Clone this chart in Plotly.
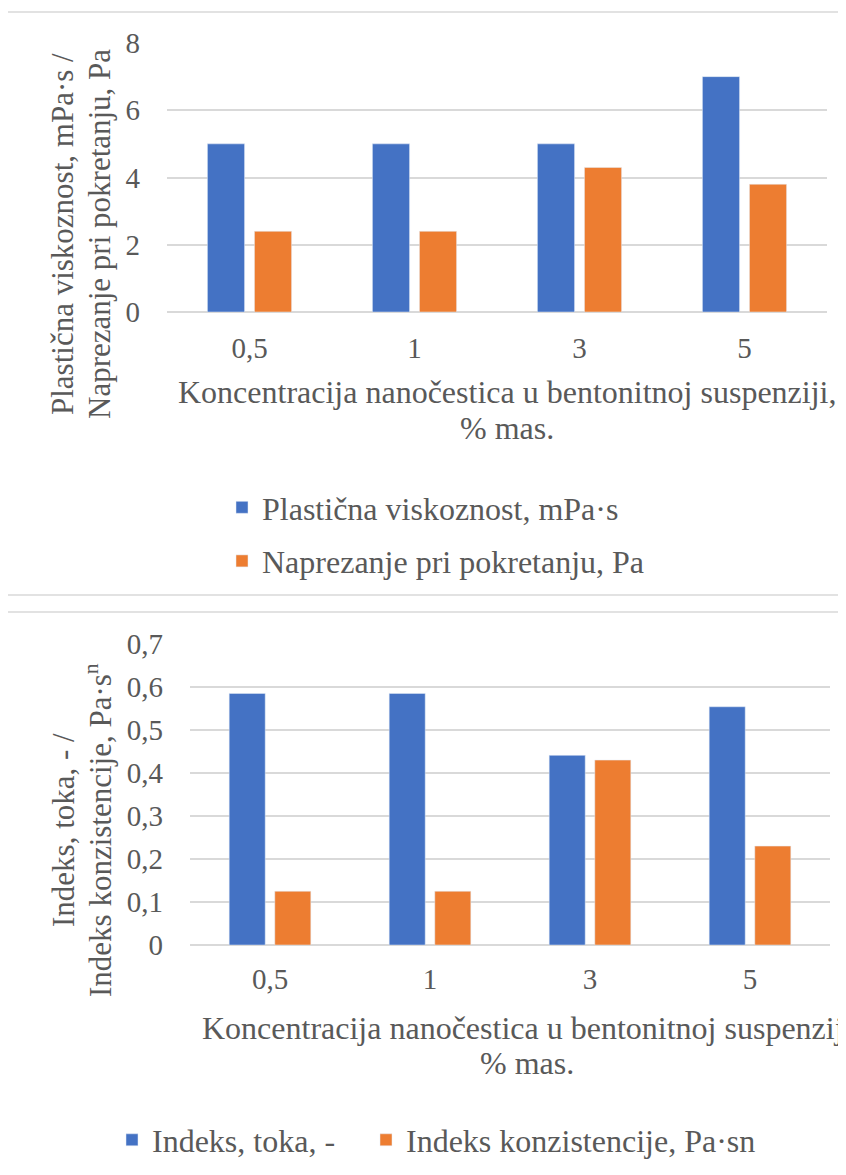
import plotly.graph_objects as go

W, H = 846, 1175
OFF = 8  # default page body margin

categories = ["0,5", "1", "3", "5"]

# Top chart
top_series1_name = "Plastična viskoznost, mPa·s"
top_series1 = [5, 5, 5, 7]
top_series2_name = "Naprezanje pri pokretanju, Pa"
top_series2 = [2.4, 2.4, 4.3, 3.8]
top_yticks = [0, 2, 4, 6, 8]
top_ylabels = ["0", "2", "4", "6", "8"]

# Bottom chart
bot_series1_name = "Indeks, toka, -"
bot_series1 = [0.585, 0.585, 0.441, 0.554]
bot_series2_name = "Indeks konzistencije, Pa·sn"
bot_series2 = [0.125, 0.125, 0.43, 0.23]
bot_yticks = [0, 0.1, 0.2, 0.3, 0.4, 0.5, 0.6, 0.7]
bot_ylabels = ["0", "0,1", "0,2", "0,3", "0,4", "0,5", "0,6", "0,7"]

BLUE = "#4472C4"
ORANGE = "#ED7D31"
TXT = "#595959"
GRID = "#D9D9D9"
FONT = "Liberation Serif, Times New Roman, Tinos, DejaVu Serif, serif"


def px(x):
    return (x - OFF) / W


def py(y):
    return 1 - (y - OFF) / H


fig = go.Figure()

fig.add_trace(go.Bar(x=categories, y=top_series1, name=top_series1_name,
                     marker_color=BLUE, xaxis="x", yaxis="y", legend="legend",
                     legendgroup="a"))
fig.add_trace(go.Bar(x=categories, y=top_series2, name=top_series2_name,
                     marker_color=ORANGE, xaxis="x", yaxis="y", legend="legend",
                     legendgroup="b"))
fig.add_trace(go.Bar(x=categories, y=bot_series1, name=bot_series1_name,
                     marker_color=BLUE, xaxis="x2", yaxis="y2", legend="legend2"))
fig.add_trace(go.Bar(x=categories, y=bot_series2, name=bot_series2_name,
                     marker_color=ORANGE, xaxis="x2", yaxis="y2", legend="legend3"))

tickfont = dict(family=FONT, size=29, color=TXT)
legfont = dict(family=FONT, size=32, color=TXT)

fig.update_layout(
    width=W, height=H,
    margin=dict(l=0, r=0, t=0, b=0, autoexpand=False),
    paper_bgcolor="white", plot_bgcolor="white",
    bargap=0.43, bargroupgap=0.21,
    font=dict(family=FONT, color=TXT),
    xaxis=dict(domain=[px(167), px(827)], anchor="y", tickfont=tickfont,
               showgrid=False, showline=False, ticks="", automargin=False,
               ticklabelstandoff=16),
    yaxis=dict(domain=[py(312), py(43)], anchor="x", range=[0, 8],
               tickvals=top_yticks, ticktext=top_ylabels, tickfont=tickfont,
               showgrid=True, gridcolor=GRID, gridwidth=1.5,
               zeroline=True, zerolinecolor=GRID, zerolinewidth=1.5,
               ticks="", ticklabelstandoff=26, automargin=False),
    xaxis2=dict(domain=[px(190), px(830)], anchor="y2", tickfont=tickfont,
                showgrid=False, showline=False, ticks="", automargin=False,
                ticklabelstandoff=14),
    yaxis2=dict(domain=[py(945), py(644)], anchor="x2", range=[0, 0.7],
                tickvals=bot_yticks, ticktext=bot_ylabels, tickfont=tickfont,
                showgrid=True, gridcolor=GRID, gridwidth=1.5,
                zeroline=True, zerolinecolor=GRID, zerolinewidth=1.5,
                ticks="", ticklabelstandoff=26, automargin=False),
    legend=dict(orientation="v", x=px(222), y=py(480), xanchor="left", yanchor="top",
                font=legfont, tracegroupgap=9, bgcolor="rgba(0,0,0,0)"),
    legend2=dict(orientation="h", x=px(112), y=py(1140), xanchor="left", yanchor="middle",
                 font=legfont, bgcolor="rgba(0,0,0,0)"),
    legend3=dict(orientation="h", x=px(366), y=py(1140), xanchor="left", yanchor="middle",
                 font=legfont, bgcolor="rgba(0,0,0,0)"),
    showlegend=True,
)

annots = [
    dict(text="Plastična viskoznost, mPa·s /", x=62, y=234, angle=-90, size=31),
    dict(text="Naprezanje pri pokretanju, Pa", x=99, y=234, angle=-90, size=31),
    dict(text="Koncentracija nanočestica u bentonitnoj suspenziji,", x=507, y=392, angle=0, size=32),
    dict(text="% mas.", x=507, y=428, angle=0, size=32),
    dict(text="Indeks, toka, - /", x=63, y=830, angle=-90, size=31),
    dict(text="Indeks konzistencije, Pa·s<sup>n</sup>", x=98, y=830, angle=-90, size=31),
    dict(text="Koncentracija nanočestica u bentonitnoj suspenziji", x=527, y=1028, angle=0, size=32),
    dict(text="% mas.", x=527, y=1063, angle=0, size=32),
]
for a in annots:
    fig.add_annotation(text=a["text"], x=px(a["x"]), y=py(a["y"]), xref="paper", yref="paper",
                       xanchor="center", yanchor="middle", showarrow=False,
                       textangle=a["angle"],
                       font=dict(family=FONT, size=a["size"], color=TXT))

# chart-area borders
fig.add_shape(type="rect", xref="paper", yref="paper",
              x0=px(6), x1=px(870), y0=py(595), y1=py(12),
              line=dict(color=GRID, width=1.5), fillcolor="rgba(0,0,0,0)")
fig.add_shape(type="rect", xref="paper", yref="paper",
              x0=px(4), x1=px(870), y0=py(1200), y1=py(612),
              line=dict(color=GRID, width=1.5), fillcolor="rgba(0,0,0,0)")

fig.write_html("out.html")
